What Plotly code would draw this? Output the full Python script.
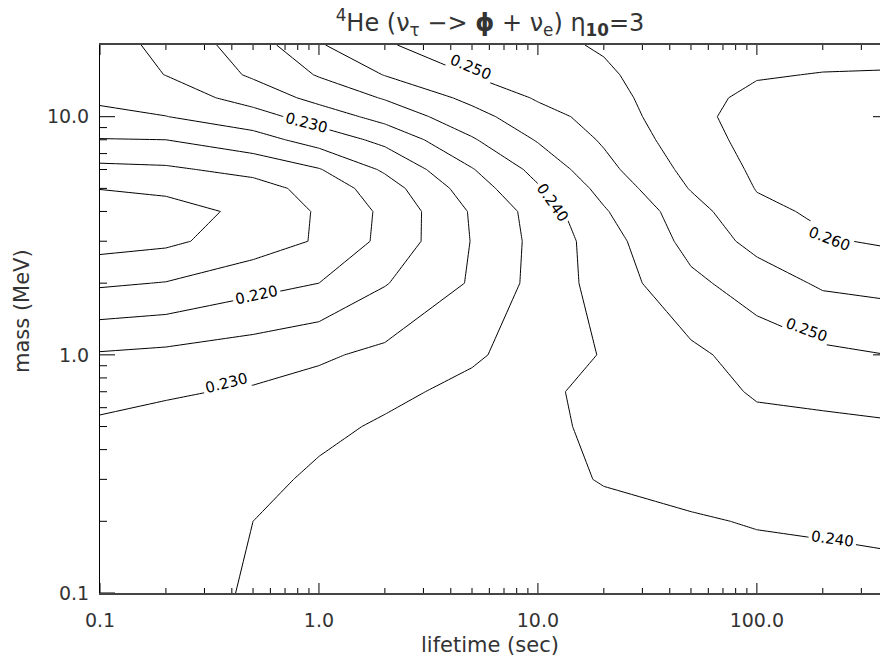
import numpy as np
import plotly.graph_objects as go

# lifetime (sec) grid and mass (MeV) grid
lifetime = [0.1, 0.2, 0.5, 1, 2, 5, 10, 20, 50, 100, 200, 400]
mass = [0.1, 0.2, 0.3, 0.5, 0.7, 1, 2, 3, 4, 5, 6, 8, 10, 12, 15, 20]

# 4He mass fraction Yp, one row per mass value
yp_m0p1 = [0.2330, 0.2342, 0.2352, 0.2385, 0.2390, 0.2390, 0.2390, 0.2385, 0.2390, 0.2385, 0.2385, 0.2385]
yp_m0p2 = [0.2325, 0.2335, 0.2350, 0.2375, 0.2385, 0.2390, 0.2390, 0.2390, 0.2397, 0.2402, 0.2405, 0.2410]
yp_m0p3 = [0.2320, 0.2328, 0.2334, 0.2360, 0.2375, 0.2385, 0.2390, 0.2402, 0.2410, 0.2418, 0.2420, 0.2425]
yp_m0p5 = [0.2308, 0.2315, 0.2317, 0.2337, 0.2357, 0.2380, 0.2390, 0.2409, 0.2420, 0.2438, 0.2440, 0.2445]
yp_m0p7 = [0.2284, 0.2295, 0.2305, 0.2317, 0.2337, 0.2365, 0.2390, 0.2414, 0.2430, 0.2455, 0.2462, 0.2468]
yp_m1 = [0.2255, 0.2262, 0.2277, 0.2293, 0.2311, 0.2342, 0.2375, 0.2403, 0.2440, 0.2470, 0.2490, 0.2500]
yp_m2 = [0.2143, 0.2152, 0.2182, 0.2200, 0.2247, 0.2305, 0.2367, 0.2420, 0.2488, 0.2525, 0.2557, 0.2565]
yp_m3 = [0.2080, 0.2090, 0.2125, 0.2155, 0.2213, 0.2302, 0.2365, 0.2425, 0.2518, 0.2565, 0.2595, 0.2606]
yp_m4 = [0.2060, 0.2075, 0.2115, 0.2155, 0.2210, 0.2305, 0.2370, 0.2445, 0.2530, 0.2590, 0.2607, 0.2612]
yp_m5 = [0.2102, 0.2113, 0.2130, 0.2168, 0.2227, 0.2325, 0.2395, 0.2465, 0.2553, 0.2602, 0.2615, 0.2620]
yp_m6 = [0.2137, 0.2142, 0.2165, 0.2197, 0.2257, 0.2347, 0.2415, 0.2485, 0.2565, 0.2608, 0.2620, 0.2626]
yp_m8 = [0.2198, 0.2200, 0.2230, 0.2271, 0.2313, 0.2395, 0.2454, 0.2506, 0.2580, 0.2615, 0.2622, 0.2628]
yp_m10 = [0.2237, 0.2249, 0.2280, 0.2323, 0.2367, 0.2432, 0.2482, 0.2518, 0.2590, 0.2615, 0.2620, 0.2625]
yp_m12 = [0.2259, 0.2273, 0.2320, 0.2365, 0.2404, 0.2463, 0.2505, 0.2528, 0.2592, 0.2606, 0.2612, 0.2615]
yp_m15 = [0.2272, 0.2301, 0.2357, 0.2404, 0.2452, 0.2502, 0.2525, 0.2541, 0.2590, 0.2598, 0.2601, 0.2602]
yp_m20 = [0.2275, 0.2315, 0.2375, 0.2445, 0.2495, 0.2530, 0.2535, 0.2556, 0.2585, 0.2590, 0.2590, 0.2590]

yp = [yp_m0p1, yp_m0p2, yp_m0p3, yp_m0p5, yp_m0p7, yp_m1, yp_m2, yp_m3, yp_m4,
      yp_m5, yp_m6, yp_m8, yp_m10, yp_m12, yp_m15, yp_m20]

# contour levels
level_start, level_end, level_step = 0.210, 0.260, 0.005

# contour labels (text, lifetime, mass, angle) as placed in the original
label_text = ["0.250", "0.230", "0.220", "0.230", "0.240", "0.260", "0.250", "0.240"]
label_lifetime = [4.9, 0.88, 0.52, 0.38, 11.7, 215, 169, 222]
label_mass = [16.1, 9.4, 1.79, 0.76, 4.35, 3.07, 1.27, 0.169]
label_angle = [23, 14, -12, -14, 55, 21, 20, 8]

x_major = [0.1, 1, 10, 100]
x_major_text = ["0.1", "1.0", "10.0", "100.0"]
y_major = [0.1, 1, 10]
y_major_text = ["0.1", "1.0", "10.0"]
x_minor = [0.2, 0.3, 0.4, 0.5, 0.6, 0.7, 0.8, 0.9, 2, 3, 4, 5, 6, 7, 8, 9,
           20, 30, 40, 50, 60, 70, 80, 90, 200, 300]
y_minor = [0.2, 0.3, 0.4, 0.5, 0.6, 0.7, 0.8, 0.9, 2, 3, 4, 5, 6, 7, 8, 9]
y_right_ticks = [1, 10]

X_RANGE = [-1, np.log10(365)]
Y_RANGE = [-1, np.log10(20)]

FONT = "DejaVu Sans"
TXT = "#333333"
black = [[0, "black"], [1, "black"]]

fig = go.Figure()

fig.add_trace(go.Contour(
    x=lifetime, y=mass, z=yp,
    contours=dict(coloring="lines", start=level_start, end=level_end,
                  size=level_step, showlabels=False),
    line=dict(width=1, smoothing=0),
    colorscale=black, showscale=False, hoverinfo="skip",
))

annotations = []
for t, lx, ly, ang in zip(label_text, label_lifetime, label_mass, label_angle):
    annotations.append(dict(
        text=t, x=np.log10(lx), y=np.log10(ly), xref="x", yref="y",
        showarrow=False, textangle=ang, bgcolor="white", borderpad=2,
        xanchor="center", yanchor="middle",
        font=dict(family=FONT, size=15, color="black"),
    ))

annotations += [
    dict(text="lifetime (sec)", xref="paper", yref="paper",
         x=0.5, y=(593 - 645) / 548, xanchor="center", yanchor="middle",
         showarrow=False, font=dict(family=FONT, size=21, color=TXT)),
    dict(text="mass (MeV)", xref="paper", yref="paper",
         x=(22 - 100) / 780, y=(593 - 311) / 548, xanchor="center",
         yanchor="middle", textangle=-90, showarrow=False,
         font=dict(family=FONT, size=21, color=TXT)),
]

# tick marks drawn inward on the frame (bottom/top for x, left for y);
# shapes on log axes take plain data values here
shapes = []
tick_line = dict(color="black", width=1)


def xtick(v, length):
    for anchor, sign in ((0, 1), (1, -1)):
        shapes.append(dict(type="line", xref="x", yref="paper",
                           x0=v, x1=v,
                           ysizemode="pixel", yanchor=anchor,
                           y0=0, y1=sign * length, line=tick_line,
                           layer="above"))


def ytick(v, length, anchor=0, sign=1):
    shapes.append(dict(type="line", xref="paper", yref="y",
                       y0=v, y1=v,
                       xsizemode="pixel", xanchor=anchor,
                       x0=0, x1=sign * length, line=tick_line,
                       layer="above"))


for v in x_major:
    xtick(v, 10)
for v in x_minor:
    xtick(v, 5)
for v in y_major:
    ytick(v, 15)
for v in y_minor:
    ytick(v, 7)
for v in y_right_ticks:
    ytick(v, 7, anchor=1, sign=-1)

fig.update_layout(
    width=880, height=662,
    margin=dict(l=100, r=0, t=45, b=69),
    paper_bgcolor="white", plot_bgcolor="white",
    showlegend=False,
    font=dict(family=FONT, color=TXT, size=18),
    title=dict(
        text="<sup>4</sup>He (ν<sub>τ</sub> −> <b>ϕ</b> + ν<sub>e</sub>) η<sub><b>10</b></sub>=3",
        x=0.5, xref="paper", xanchor="center",
        y=1 - 23 / 662, yref="container", yanchor="middle",
        font=dict(family=FONT, size=24, color=TXT),
    ),
    xaxis=dict(
        type="log", range=X_RANGE, showgrid=False, zeroline=False,
        tickmode="array", tickvals=x_major, ticktext=x_major_text,
        ticks="", showline=True, linecolor="#444444", linewidth=1.5,
        mirror=True,
        tickfont=dict(family=FONT, size=19, color=TXT),
        ticklabelstandoff=9,
    ),
    yaxis=dict(
        type="log", range=Y_RANGE, showgrid=False, zeroline=False,
        tickmode="array", tickvals=y_major, ticktext=y_major_text,
        ticks="", showline=True, linecolor="black", linewidth=1,
        mirror=False,
        tickfont=dict(family=FONT, size=19, color=TXT),
        ticklabelstandoff=6,
    ),
    shapes=shapes,
    annotations=annotations,
)

fig.write_html("out.html")
